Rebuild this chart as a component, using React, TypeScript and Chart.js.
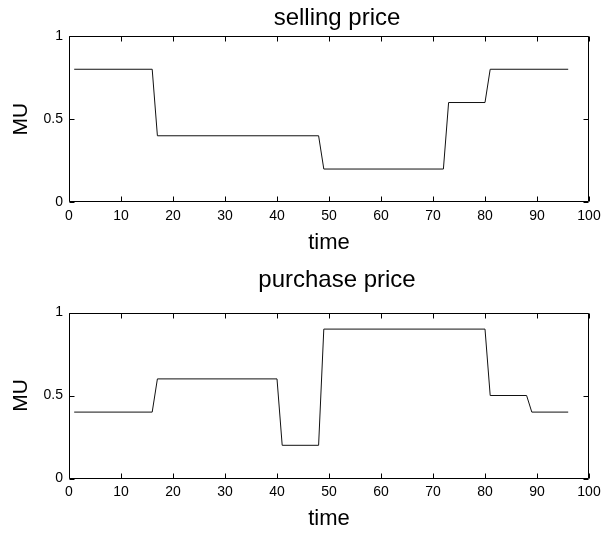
import React, { useEffect, useRef } from "react";
import { Chart, registerables } from "chart.js";

Chart.register(...registerables);

// ---- data ----
const sellTimes = [1, 16, 17, 48, 49, 72, 73, 80, 81, 96];
const sellValues = [0.8, 0.8, 0.4, 0.4, 0.2, 0.2, 0.6, 0.6, 0.8, 0.8];

const buyTimes = [1, 16, 17, 40, 41, 48, 49, 80, 81, 88, 89, 96];
const buyValues = [0.4, 0.4, 0.6, 0.6, 0.2, 0.2, 0.9, 0.9, 0.5, 0.5, 0.4, 0.4];

const xTicks = [0, 10, 20, 30, 40, 50, 60, 70, 80, 90, 100];
const yTicks = [0, 0.5, 1];

const titles = ["selling price", "purchase price"];
const xLabel = "time";
const yLabel = "MU";

const FONT = "'Liberation Sans', Arial, Helvetica, sans-serif";

type PanelProps = {
  top: number;
  height: number;
  padTop: number;
  areaHeight: number;
  xTitlePad: number;
  titleBaseline: number;
  title: string;
  times: number[];
  values: number[];
};

const boxPlugin = {
  id: "matlabBox",
  afterDraw(chart: any, _args: any, opts: any) {
    const { ctx, chartArea: a, scales } = chart;
    const x = scales.x;
    const y = scales.y;
    ctx.save();
    ctx.strokeStyle = "#000";
    ctx.lineWidth = 1;
    const L = Math.round(a.left) + 0.5;
    const R = Math.round(a.right) - 0.5;
    const T = Math.round(a.top) + 0.5;
    const B = Math.round(a.bottom) - 0.5;
    ctx.beginPath();
    ctx.rect(L, T, R - L, B - T);
    const tl = 5;
    xTicks.forEach((v) => {
      const px = Math.round(x.getPixelForValue(v)) + 0.5;
      ctx.moveTo(px, B);
      ctx.lineTo(px, B - tl);
      ctx.moveTo(px, T);
      ctx.lineTo(px, T + tl);
    });
    yTicks.forEach((v) => {
      const py = Math.round(y.getPixelForValue(v)) + 0.5;
      ctx.moveTo(L, py);
      ctx.lineTo(L + tl, py);
      ctx.moveTo(R, py);
      ctx.lineTo(R - tl, py);
    });
    ctx.stroke();
    // title
    ctx.fillStyle = "#000";
    ctx.font = `24px ${FONT}`;
    ctx.textAlign = "center";
    ctx.textBaseline = "alphabetic";
    ctx.fillText(opts.text, (a.left + a.right) / 2 + 8, opts.baseline);
    ctx.restore();
  },
};

function Panel(p: PanelProps) {
  const ref = useRef<HTMLCanvasElement | null>(null);
  useEffect(() => {
    if (!ref.current) return;
    const pts = p.times.map((t, i) => ({ x: t, y: p.values[i] }));
    const axisH = p.height - p.padTop - p.areaHeight;
    const chart = new Chart(ref.current, {
      type: "line",
      data: {
        datasets: [
          {
            data: pts,
            borderColor: "#111",
            borderWidth: 1,
            pointRadius: 0,
            tension: 0,
            fill: false,
          },
        ],
      },
      options: {
        animation: false,
        responsive: false,
        devicePixelRatio: 1,
        layout: { padding: { top: p.padTop, right: 18, left: 0, bottom: 0 } },
        plugins: {
          legend: { display: false },
          tooltip: { enabled: false },
          matlabBox: { text: p.title, baseline: p.titleBaseline },
        } as any,
        scales: {
          x: {
            type: "linear",
            min: 0,
            max: 100,
            afterBuildTicks: (s: any) => {
              s.ticks = xTicks.map((v) => ({ value: v }));
            },
            afterFit: (s: any) => {
              s.height = axisH;
            },
            grid: { display: false, drawTicks: false },
            border: { display: false },
            ticks: {
              padding: 5,
              color: "#000",
              font: { family: FONT, size: 14 },
              maxRotation: 0,
              autoSkip: false,
              callback: (v: any) => String(v),
            },
            title: {
              display: true,
              text: xLabel,
              color: "#000",
              font: { family: FONT, size: 22 },
              padding: { top: 0, bottom: p.xTitlePad },
            },
          },
          y: {
            type: "linear",
            min: 0,
            max: 1,
            afterBuildTicks: (s: any) => {
              s.ticks = yTicks.map((v) => ({ value: v }));
            },
            afterFit: (s: any) => {
              s.width = 69;
            },
            grid: { display: false, drawTicks: false },
            border: { display: false },
            ticks: {
              padding: 6,
              color: "#000",
              font: { family: FONT, size: 14 },
              autoSkip: false,
              callback: (v: any) => String(v),
            },
            title: {
              display: true,
              text: yLabel,
              color: "#000",
              font: { family: FONT, size: 21 },
              padding: { top: 8.4, bottom: 0 },
            },
          },
        },
      },
      plugins: [boxPlugin],
    });
    return () => chart.destroy();
  }, []);
  return (
    <canvas
      ref={ref}
      width={607}
      height={p.height}
      style={{
        position: "absolute",
        left: 0,
        top: p.top,
        width: 607,
        height: p.height,
        display: "block",
      }}
    />
  );
}

export default function App() {
  return (
    <div
      style={{
        position: "absolute",
        left: 0,
        top: 0,
        width: 607,
        height: 533,
        background: "#fff",
        overflow: "hidden",
      }}
    >
      <Panel
        top={0}
        height={262}
        padTop={36}
        areaHeight={166.3}
        xTitlePad={5.7}
        titleBaseline={25}
        title={titles[0]}
        times={sellTimes}
        values={sellValues}
      />
      <Panel
        top={262}
        height={271}
        padTop={50.5}
        areaHeight={166}
        xTitlePad={0.5}
        titleBaseline={25.3}
        title={titles[1]}
        times={buyTimes}
        values={buyValues}
      />
    </div>
  );
}
